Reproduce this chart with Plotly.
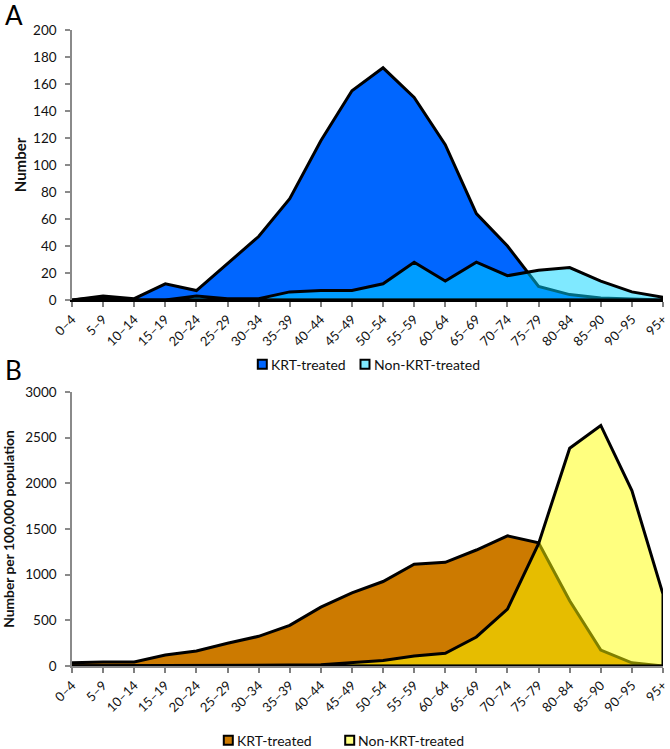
import plotly.graph_objects as go

ages = ["0–4", "5–9", "10–14", "15–19", "20–24", "25–29", "30–34", "35–39", "40–44", "45–49",
        "50–54", "55–59", "60–64", "65–69", "70–74", "75–79", "80–84", "85–90", "90–95", "95+"]

# Panel A: Number
krt_a = [0, 3, 1, 12, 7, 27, 47, 75, 118, 155, 172, 150, 115, 64, 40, 10, 4, 1.5, 0.5, 0]
non_a = [0, 2, 0, 0, 3, 1, 1, 6, 7, 7, 12, 28, 14, 28, 18, 22, 24, 14, 6, 2]

# Panel B: Number per 100,000 population
krt_b = [35, 45, 45, 120, 165, 250, 325, 445, 645, 800, 925, 1115, 1135, 1270, 1425, 1350, 715, 175, 35, 2]
non_b = [3, 3, 3, 4, 5, 6, 8, 10, 15, 40, 60, 110, 140, 318, 622, 1340, 2385, 2634, 1920, 787]

series_names = ["KRT-treated", "Non-KRT-treated"]

FONT = "Lato"
C_KRT_A = "#0066FF"
C_NON_A = "rgba(0,212,255,0.5)"
C_NON_A_LEG = "#80EAFF"
C_KRT_B = "#CC7A00"
C_NON_B = "rgba(255,255,0,0.5)"
C_NON_B_LEG = "#FFFF80"

W, H, L, R, T, B = 670, 749, 72, 7, 30, 83
pw, ph = W - L - R, H - T - B


def px_x(p):
    return (p - L) / pw


def px_y(p):
    return (H - B - p) / ph


def area(vals, fillcolor, xa, ya):
    # closed polygon following the data, then back along the baseline (Excel-style outline)
    xs = list(ages) + [ages[-1], ages[0]]
    ys = list(vals) + [0, 0]
    return go.Scatter(x=xs, y=ys, mode="lines", fill="toself", fillcolor=fillcolor,
                      line=dict(color="black", width=3, shape="linear"),
                      xaxis=xa, yaxis=ya, showlegend=False, hoverinfo="skip")


fig = go.Figure()
fig.add_trace(area(krt_a, C_KRT_A, "x", "y"))
fig.add_trace(area(non_a, C_NON_A, "x", "y"))
fig.add_trace(area(krt_b, C_KRT_B, "x2", "y2"))
fig.add_trace(area(non_b, C_NON_B, "x2", "y2"))

xcommon = dict(type="category", categoryorder="array", categoryarray=ages,
               range=[0, len(ages) - 1], tickangle=-45, ticks="outside", ticklen=5,
               tickwidth=1.5, tickcolor="#7f7f7f", showgrid=False, zeroline=False,
               tickfont=dict(family=FONT, size=13, color="#111"), automargin=False,
               showline=True, linewidth=1.5)
ycommon = dict(ticks="outside", ticklen=5, tickwidth=1.5, tickcolor="#8a8a8a",
               showline=True, linecolor="#8a8a8a", linewidth=1.5, showgrid=False,
               zeroline=False, tickfont=dict(family=FONT, size=13.5, color="#111"),
               automargin=False, ticklabelstandoff=6)

fig.update_layout(
    width=W, height=H,
    margin=dict(l=L, r=R, t=T, b=B),
    paper_bgcolor="white", plot_bgcolor="white",
    font=dict(family=FONT, color="#111"),
    showlegend=False,
    xaxis=dict(domain=[0, 1], anchor="y", linecolor="black", **xcommon),
    yaxis=dict(domain=[px_y(300), 1], range=[0, 200], dtick=20, anchor="x",
               title=dict(text="<b>Number</b>", font=dict(family=FONT, size=15), standoff=3),
               **ycommon),
    xaxis2=dict(domain=[0, 1], anchor="y2", linecolor="#8a8a8a", **xcommon),
    yaxis2=dict(domain=[0, px_y(392)], range=[0, 3000], dtick=500, anchor="x2",
                title=dict(text="<b>Number per 100,000 population</b>",
                           font=dict(family=FONT, size=13.8), standoff=7),
                **ycommon),
)

# panel letters
for letter, py in [("A", 15), ("B", 370)]:
    fig.add_annotation(text=letter, x=px_x(3), y=px_y(py), xref="paper", yref="paper",
                       xanchor="left", yanchor="middle", showarrow=False,
                       font=dict(family=FONT, size=26, color="black"))

# legends (swatch + label), drawn like the reference keys
legend_items = [
    (series_names[0], C_KRT_A, 262.3, 364.3),
    (series_names[1], C_NON_A_LEG, 365.0, 364.3),
    (series_names[0], C_KRT_B, 228.3, 740.3),
    (series_names[1], C_NON_B_LEG, 349.7, 740.3),
]
for name, col, cx, cy in legend_items:
    fig.add_shape(type="rect", xref="paper", yref="paper",
                  x0=px_x(cx - 4.5), x1=px_x(cx + 4.5), y0=px_y(cy + 4.5), y1=px_y(cy - 4.5),
                  fillcolor=col, line=dict(color="black", width=2))
    fig.add_annotation(text=name, x=px_x(cx + 6.5), y=px_y(cy), xref="paper", yref="paper",
                       xanchor="left", yanchor="middle", showarrow=False,
                       font=dict(family=FONT, size=14, color="#111"))

fig.write_html("out.html", config={"displayModeBar": False},
               post_script="document.body.style.margin='0px';")
